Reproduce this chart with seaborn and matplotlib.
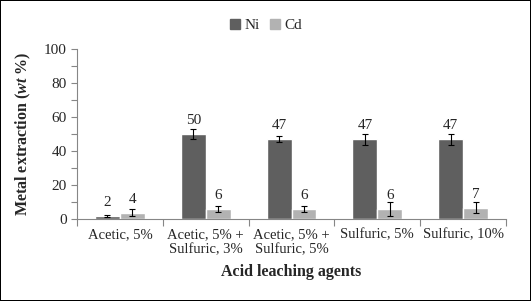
import numpy as np
import pandas as pd
import matplotlib
matplotlib.use('Agg')
import matplotlib.pyplot as plt
from matplotlib.patches import Rectangle
from matplotlib.lines import Line2D
import seaborn as sns

# data
agents = ['Acetic, 5%', 'Acetic, 5% +\nSulfuric, 3%', 'Acetic, 5% +\nSulfuric, 5%',
          'Sulfuric, 5%', 'Sulfuric, 10%']
ni_vals = [2, 50, 47, 47, 47]
cd_vals = [4, 6, 6, 6, 7]
ni_err = [0.5, 3.0, 1.8, 3.3, 3.3]
cd_err = [2.0, 1.8, 1.8, 4.0, 3.2]
metals = ['Ni', 'Cd']

df = pd.DataFrame({
    'agent': agents * 2,
    'metal': ['Ni'] * len(agents) + ['Cd'] * len(agents),
    'value': ni_vals + cd_vals,
    'err': ni_err + cd_err,
})

sns.set_style('white')
plt.rcParams['font.family'] = ['Liberation Serif', 'DejaVu Serif']
plt.rcParams['mathtext.fontset'] = 'custom'
plt.rcParams['mathtext.rm'] = 'Liberation Serif:bold'
plt.rcParams['mathtext.it'] = 'Liberation Serif:bold:italic'
plt.rcParams['mathtext.bf'] = 'Liberation Serif:bold'

colors = {'Ni': '#5f5f5f', 'Cd': '#b2b2b2'}

fig = plt.figure(figsize=(5.31, 3.01), dpi=100, linewidth=1.2, edgecolor='black')
ax = fig.add_axes([0.145, 0.271, 0.808, 0.566])

sns.barplot(data=df, x='agent', y='value', hue='metal', palette=colors,
            order=agents, hue_order=metals, errorbar=None, width=0.58,
            saturation=1, ax=ax, legend=False)

# error bars + labels
for cont, metal in zip(ax.containers, metals):
    sub = df[df['metal'] == metal].set_index('agent').loc[agents]
    for bar, v, e in zip(cont, sub['value'], sub['err']):
        xc = bar.get_x() + bar.get_width() / 2
        ax.errorbar(xc, v, yerr=e, fmt='none', ecolor='black', elinewidth=0.8,
                    capsize=2.5, capthick=0.8)
        ax.annotate(f'{v:g}', (xc, v), xytext=(0, 5), textcoords='offset points',
                    ha='center', va='bottom', fontsize=11)

ax.set_ylim(0, 100)
ax.set_xlim(-0.5, len(agents) - 0.5)
ax.set_yticks(np.arange(0, 101, 20))
ax.set_yticks(np.arange(10, 100, 20), minor=True)
ax.set_xticks(np.arange(-0.5, len(agents), 1.0), minor=True)
ax.tick_params(axis='x', which='major', length=0, pad=6, labelsize=10.5)
ax.tick_params(axis='x', which='minor', length=5, color='#868686', width=0.8, direction='out')
ax.tick_params(axis='y', which='both', length=4, color='#868686', width=0.8,
               direction='out', labelsize=11, left=True)
ax.tick_params(axis='x', which='minor', bottom=True)
for s in ['top', 'right']:
    ax.spines[s].set_visible(False)
for s in ['left', 'bottom']:
    ax.spines[s].set_color('#868686')
    ax.spines[s].set_linewidth(0.8)

ax.set_xlabel('Acid leaching agents', fontsize=11.5, fontweight='bold', labelpad=6)
ax.set_ylabel(r'Metal extraction ($\mathit{wt}$ %)', fontsize=11.5, fontweight='bold', labelpad=8)

handles = [Line2D([], [], marker='s', linestyle='none', markersize=7,
                  markerfacecolor=colors[m], markeredgecolor=colors[m]) for m in metals]
fig.legend(handles, metals, loc='upper center', bbox_to_anchor=(0.5, 0.985), ncol=2,
           frameon=False, fontsize=11, handlelength=0.8, handletextpad=0.2,
           columnspacing=0.6)

fig.savefig('out.png', dpi=100)
